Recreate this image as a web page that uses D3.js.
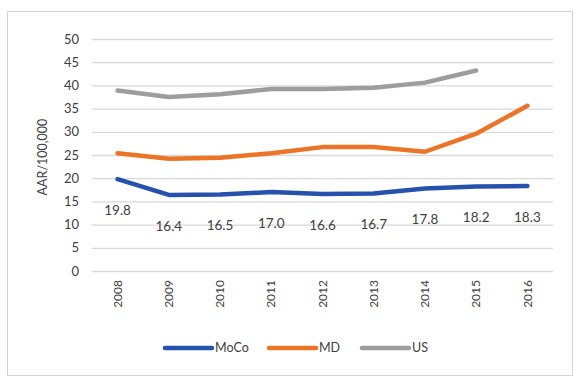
<!DOCTYPE html>
<html>
<head>
<meta charset="utf-8">
<script src="https://cdn.jsdelivr.net/npm/d3@7"></script>
<style>
  html, body { margin: 0; padding: 0; background: #fff; }
  svg { display: block; }
  text { font-family: Lato, "Open Sans", sans-serif; fill: #404040; }
</style>
</head>
<body>
<svg id="chart" width="575" height="377"></svg>
<script>
// Age-adjusted rate per 100,000, 2008–2016
const years = ["2008", "2009", "2010", "2011", "2012", "2013", "2014", "2015", "2016"];
const moco = [19.8, 16.4, 16.5, 17.0, 16.6, 16.7, 17.8, 18.2, 18.3];
const md   = [25.4, 24.2, 24.4, 25.4, 26.7, 26.7, 25.7, 29.6, 35.6];
const us   = [38.9, 37.5, 38.1, 39.2, 39.2, 39.5, 40.6, 43.2, null];
const yTicks = [0, 5, 10, 15, 20, 25, 30, 35, 40, 45, 50];
const seriesNames = ["MoCo", "MD", "US"];
const seriesColors = ["#2651ad", "#ec7426", "#9d9d9d"];

const svg = d3.select("#chart");

// outer chart frame
svg.append("rect")
  .attr("x", 7.5).attr("y", 11.5).attr("width", 565).attr("height", 364)
  .attr("fill", "none").attr("stroke", "#d4d4d4").attr("stroke-width", 1);

const plot = { left: 92, right: 553, top: 39, bottom: 271 };

const x = d3.scaleBand().domain(years).range([plot.left, plot.right]);
const y = d3.scaleLinear().domain([0, 50]).range([plot.bottom, plot.top]);

// horizontal gridlines
svg.append("g")
  .selectAll("line")
  .data(yTicks)
  .join("line")
  .attr("x1", plot.left).attr("x2", plot.right)
  .attr("y1", d => y(d) + 0.5).attr("y2", d => y(d) + 0.5)
  .attr("stroke", "#d9d9d9").attr("stroke-width", 1.3);

// y axis labels
const yAxis = d3.axisLeft(y).tickValues(yTicks).tickSize(0).tickPadding(0);
svg.append("g")
  .attr("transform", `translate(${plot.left - 13},0)`)
  .call(yAxis)
  .call(g => g.select(".domain").remove())
  .call(g => g.selectAll("text")
    .attr("font-size", 13).attr("fill", "#404040")
    .style("font-family", "Lato, 'Open Sans', sans-serif"));

// x axis labels, rotated
const xAxis = d3.axisBottom(x).tickSize(0).tickPadding(0);
svg.append("g")
  .attr("transform", `translate(0,${plot.bottom})`)
  .call(xAxis)
  .call(g => g.select(".domain").remove())
  .call(g => g.selectAll("text")
    .attr("font-size", 12).attr("fill", "#404040")
    .style("font-family", "Lato, 'Open Sans', sans-serif")
    .attr("text-anchor", "end")
    .attr("dy", "0.35em")
    .attr("transform", "translate(0,9) rotate(-90)")
    .attr("x", 0).attr("y", 0));

// y axis title
svg.append("text")
  .attr("transform", `translate(47,${(plot.top + plot.bottom) / 2 + 2}) rotate(-90)`)
  .attr("text-anchor", "middle")
  .attr("font-size", 12.5)
  .text("AAR/100,000");

// series lines
const lineGen = d3.line()
  .defined(d => d != null)
  .x((d, i) => x(years[i]) + x.bandwidth() / 2)
  .y(d => y(d));

[moco, md, us].forEach((vals, k) => {
  svg.append("path")
    .datum(vals)
    .attr("fill", "none")
    .attr("stroke", seriesColors[k])
    .attr("stroke-width", 4.5)
    .attr("stroke-linecap", "round")
    .attr("stroke-linejoin", "round")
    .attr("d", lineGen);
});

// MoCo data labels below each point
svg.append("g")
  .selectAll("text")
  .data(moco)
  .join("text")
  .attr("x", (d, i) => x(years[i]) + x.bandwidth() / 2)
  .attr("y", d => y(d) + 31)
  .attr("dy", "0.35em")
  .attr("text-anchor", "middle")
  .attr("font-size", 13.5)
  .attr("fill", "#333")
  .text(d => d.toFixed(1));

// legend
const legendItems = [
  { name: seriesNames[0], color: seriesColors[0], x0: 165 },
  { name: seriesNames[1], color: seriesColors[1], x0: 269 },
  { name: seriesNames[2], color: seriesColors[2], x0: 362 }
];
const legendY = 348;
const lg = svg.append("g");
legendItems.forEach(it => {
  lg.append("line")
    .attr("x1", it.x0).attr("x2", it.x0 + 47)
    .attr("y1", legendY).attr("y2", legendY)
    .attr("stroke", it.color).attr("stroke-width", 4.5)
    .attr("stroke-linecap", "round");
  lg.append("text")
    .attr("x", it.x0 + 50).attr("y", legendY)
    .attr("dy", "0.35em")
    .attr("font-size", 12.5)
    .text(it.name);
});
</script>
</body>
</html>
